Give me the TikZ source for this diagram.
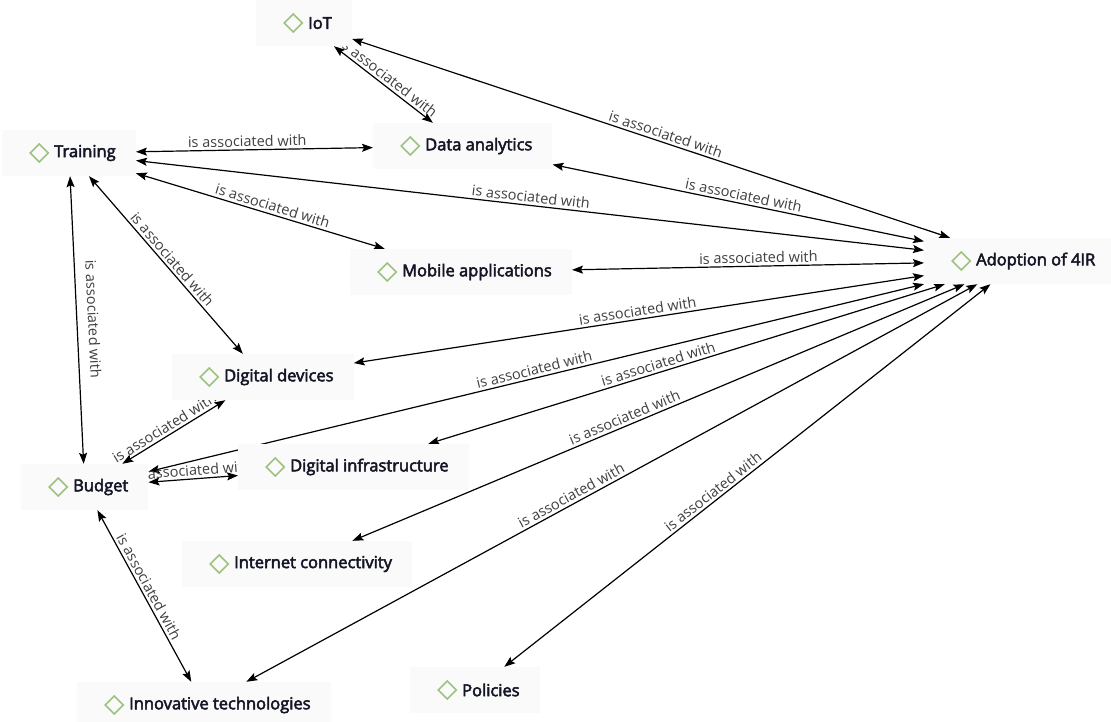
\documentclass[tikz,border=0pt]{standalone}
\usepackage{fontspec}
\setmainfont{Open Sans}
\newfontfamily\conceptfont{Open Sans}[FakeBold=3]
\usetikzlibrary{arrows.meta}
\definecolor{conceptText}{RGB}{20,22,38}
\definecolor{linkText}{RGB}{64,64,64}
\definecolor{iconGreen}{RGB}{158,194,128}
\pgfdeclarelayer{paper}
\pgfdeclarelayer{links}
\pgfsetlayers{paper,links,main}
\begin{document}
\begin{tikzpicture}[x=1pt,y=-1pt,
	concept/.style={anchor=west,fill=black!2,inner xsep=20pt,inner ysep=0pt,minimum height=46pt,
		text=conceptText,font=\conceptfont\fontsize{16.5}{19}\selectfont,
		path picture={\draw[iconGreen,line width=1.6pt,line join=miter]
			([xshift=37pt]path picture bounding box.west) +(-9pt,0) -- +(0,9pt) -- +(9pt,0) -- +(0,-9pt) -- cycle;}},
	link/.style={{Stealth[length=11pt,width=8pt,inset=2pt]}-{Stealth[length=11pt,width=8pt,inset=2pt]},line width=1.2pt,black},
	assoc/.style={sloped,above,inner sep=2.5pt,text=linkText,font=\fontsize{14.5}{16}\selectfont}]
			\newcommand{\iconpad}[1]{\hspace{32pt}#1}
			%Page
			\begin{pgfonlayer}{paper}
			\fill[white] (0,0) rectangle (1111,721);
			\end{pgfonlayer}
			\useasboundingbox (0,0) rectangle (1111,721);
			%Concepts
			\node [concept] (iot) at (256,23) {\iconpad{IoT}};
			\node [concept] (training) at (2,153) {\iconpad{Training}};
			\node [concept] (data) at (373,146) {\iconpad{Data analytics}};
			\node [concept] (mobile) at (350,272) {\iconpad{Mobile applications}};
			\node [concept] (adoption) at (924,261) {\iconpad{Adoption of 4IR}};
			\node [concept] (devices) at (172,377) {\iconpad{Digital devices}};
			\node [concept] (budget) at (21,487) {\iconpad{Budget}};
			\node [concept] (infra) at (238,467) {\iconpad{Digital infrastructure}};
			\node [concept] (internet) at (182,564) {\iconpad{Internet connectivity}};
			\node [concept] (innovative) at (77,705) {\iconpad{Innovative technologies}};
			\node [concept] (policies) at (410,690) {\iconpad{Policies}};
			\begin{pgfonlayer}{links}
			%Links from IoT
			\draw [link] (iot) -- node [assoc,pos=0.52] {is associated with} (adoption);
			\draw [link] (iot) -- node [assoc,pos=0.5] {is associated with} (data);
			%Links from Training
			\draw [link] (training) -- node [assoc,pos=0.47] {is associated with} (data);
			\draw [link] (training) -- node [assoc,pos=0.5] {is associated with} (adoption);
			\draw [link] (training) -- node [assoc,pos=0.54] {is associated with} (mobile);
			\draw [link] (training) -- node [assoc,pos=0.5] {is associated with} (devices);
			\draw [link] (training) -- node [assoc,pos=0.5,yshift=8pt] {is associated with} (budget);
			%Links to Adoption of 4IR
			\draw [link] (data) -- node [assoc,pos=0.51] {is associated with} (adoption);
			\draw [link] (mobile) -- node [assoc,pos=0.53] {is associated with} (adoption);
			\draw [link] (devices) -- node [assoc,pos=0.5] {is associated with} (adoption);
			\draw [link] (budget) -- node [assoc,pos=0.5] {is associated with} (adoption);
			\draw [link] (infra) -- node [assoc,pos=0.45] {is associated with} (adoption);
			\draw [link] (internet) -- node [assoc,pos=0.45] {is associated with} (adoption);
			\draw [link] (innovative) -- node [assoc,pos=0.45] {is associated with} (adoption);
			\draw [link] (policies) -- node [assoc,pos=0.44] {is associated with} (adoption);
			%Links from Budget
			\draw [link] (budget) -- node [assoc,pos=0.45] {is associated with} (devices);
			\draw [link] (budget) -- node [assoc,pos=0.5] {is associated with} (infra);
			\draw [link] (budget) -- node [assoc,pos=0.47] {is associated with} (innovative);
			\end{pgfonlayer}
			\end{tikzpicture}
\end{document}
